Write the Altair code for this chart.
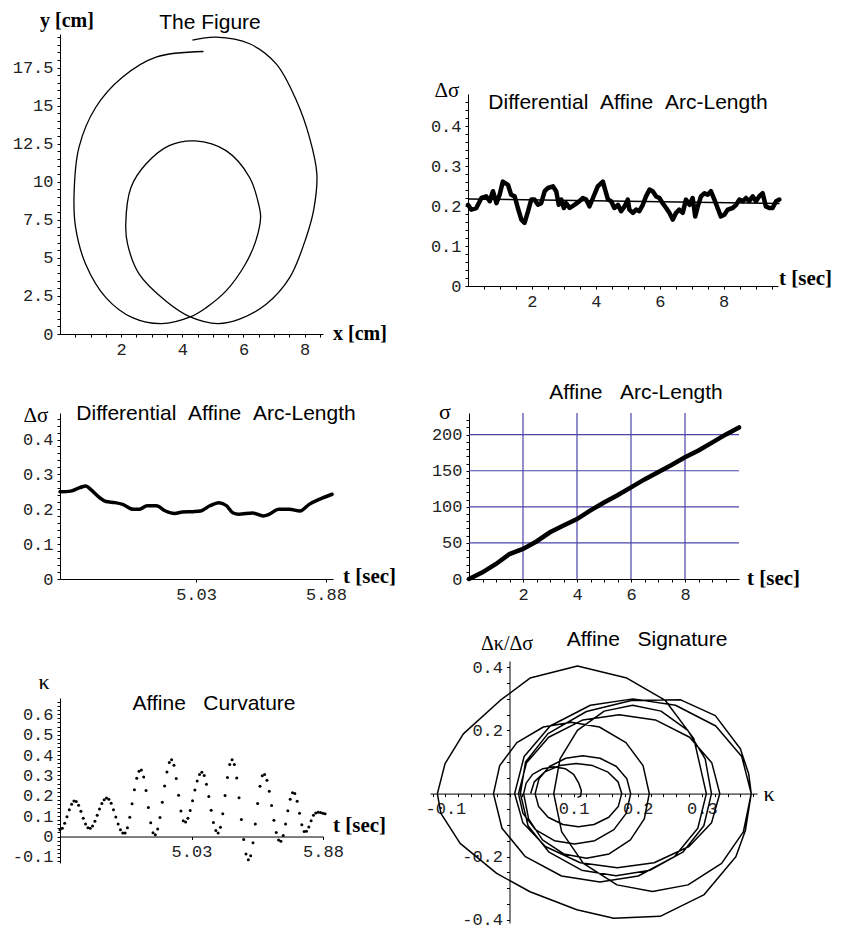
import json
import altair as alt
import pandas as pd

MONO = "Liberation Mono"
SANS = "Liberation Sans"
SERIF = "Liberation Serif"
GRID = "#4a44a8"

# ---------------- data ----------------
# Panel 1: the drawn figure, traced along the pen path (cm)
fig_x = [4.33, 5.10, 6.20, 7.07, 7.73, 8.16, 8.40, 8.30, 8.05, 7.51, 6.74, 5.87, 5.16, 4.26,
         3.46, 2.59, 2.21, 2.15, 2.32, 2.81, 3.57, 4.42, 5.43, 6.20, 6.52, 6.56, 6.40, 6.05,
         5.43, 4.78, 4.26, 3.32, 2.37, 1.50, 0.84, 0.51, 0.46, 0.62, 1.17, 2.04, 3.14, 4.69]
fig_y = [19.30, 19.49, 19.06, 17.74, 15.33, 12.90, 10.50, 8.20, 6.34, 3.70, 1.95, 0.97, 0.68, 1.12,
         2.17, 3.93, 5.90, 7.20, 9.62, 11.16, 12.37, 12.68, 12.04, 10.28, 8.31, 7.65, 6.10, 4.55,
         2.83, 1.73, 1.12, 0.68, 1.07, 2.39, 4.58, 7.00, 9.19, 12.26, 14.89, 16.86, 18.18, 18.55]

# Panel 2: differential affine arc-length over the whole drawing
p2_t = [0.00, 0.10, 0.26, 0.42, 0.57, 0.68, 0.78, 0.89, 0.99, 1.09, 1.25, 1.35, 1.46, 1.56, 1.67,
        1.77, 1.88, 1.98, 2.08, 2.19, 2.29, 2.40, 2.50, 2.66, 2.76, 2.84, 2.92, 3.00, 3.07, 3.18,
        3.33, 3.49, 3.59, 3.70, 3.80, 3.91, 4.06, 4.22, 4.29, 4.38, 4.48, 4.58, 4.69, 4.79, 4.90,
        5.00, 5.05, 5.16, 5.26, 5.36, 5.47, 5.57, 5.68, 5.78, 5.89, 5.99, 6.09, 6.20, 6.30, 6.41,
        6.51, 6.61, 6.72, 6.82, 6.93, 7.03, 7.11, 7.19, 7.29, 7.40, 7.50, 7.60, 7.71, 7.81, 7.91,
        8.02, 8.13, 8.28, 8.39, 8.49, 8.60, 8.70, 8.80, 8.91, 9.01, 9.11, 9.22, 9.32, 9.43, 9.53,
        9.64, 9.74]
p2_v = [0.203, 0.191, 0.195, 0.220, 0.224, 0.212, 0.237, 0.207, 0.228, 0.261, 0.253, 0.228, 0.224,
        0.195, 0.166, 0.158, 0.187, 0.216, 0.216, 0.203, 0.207, 0.237, 0.245, 0.249, 0.237, 0.203,
        0.216, 0.195, 0.207, 0.195, 0.203, 0.212, 0.220, 0.216, 0.199, 0.220, 0.249, 0.261, 0.241,
        0.216, 0.212, 0.195, 0.203, 0.187, 0.199, 0.216, 0.191, 0.183, 0.191, 0.187, 0.203, 0.224,
        0.241, 0.237, 0.224, 0.220, 0.207, 0.195, 0.183, 0.166, 0.183, 0.191, 0.183, 0.216, 0.203,
        0.220, 0.174, 0.199, 0.224, 0.232, 0.228, 0.237, 0.216, 0.195, 0.174, 0.178, 0.191, 0.195,
        0.203, 0.216, 0.212, 0.220, 0.212, 0.224, 0.212, 0.224, 0.232, 0.199, 0.195, 0.195, 0.212,
        0.216]
p2_fit_t = [0.00, 9.75]
p2_fit_v = [0.2175, 0.206]

# Panel 3: differential affine arc-length, smoothed segment
p3_t = [4.14, 4.21, 4.27, 4.31, 4.34, 4.40, 4.44, 4.50, 4.55, 4.62, 4.66, 4.71, 4.77, 4.83, 4.89,
        4.94, 5.01, 5.06, 5.12, 5.18, 5.23, 5.27, 5.31, 5.40, 5.47, 5.51, 5.57, 5.64, 5.71, 5.77,
        5.84, 5.92]
p3_v = [0.250, 0.252, 0.262, 0.267, 0.257, 0.233, 0.222, 0.219, 0.214, 0.200, 0.200, 0.210, 0.210,
        0.195, 0.188, 0.192, 0.193, 0.195, 0.210, 0.219, 0.210, 0.190, 0.186, 0.189, 0.181, 0.186,
        0.200, 0.200, 0.195, 0.214, 0.229, 0.243]

# Panel 4: affine arc-length
p4_t = [0, 0.5, 1, 1.5, 2, 2.5, 3, 3.5, 4, 4.5, 5, 5.5, 6, 6.5, 7, 7.5, 8, 8.5, 9, 9.5, 10]
p4_s = [0, 9.2, 20.8, 34.6, 41.6, 52, 64.7, 74, 83, 95, 106, 116, 127, 138, 148, 158, 168.6, 178,
        189, 200, 210]
p4_grid_t = [2, 4, 6, 8]
p4_grid_s = [50, 100, 150, 200]

# Panel 5: affine curvature samples
p5_k = [0.033, 0.041, 0.065, 0.097, 0.131, 0.159, 0.174,
        0.172, 0.154, 0.124, 0.090, 0.061, 0.043,
        0.041, 0.052, 0.075, 0.104, 0.135, 0.162, 0.181, 0.189,
        0.183, 0.163, 0.132, 0.096, 0.061, 0.033, 0.017,
        0.017, 0.043, 0.094, 0.161, 0.229, 0.286, 0.320,
        0.326, 0.292, 0.226, 0.143, 0.067, 0.019,
        0.009, 0.037, 0.093, 0.168, 0.248, 0.317, 0.363,
        0.377, 0.350, 0.285, 0.202, 0.125, 0.077,
        0.071, 0.090, 0.128, 0.176, 0.228, 0.273, 0.304, 0.315,
        0.300, 0.257, 0.196, 0.129, 0.069, 0.029,
        0.017, 0.045, 0.112, 0.201, 0.290, 0.353, 0.377,
        0.353, 0.287, 0.190, 0.083, -0.015, -0.086, -0.114,
        -0.094, -0.031, 0.061, 0.162, 0.247, 0.298,
        0.304, 0.276, 0.222, 0.152, 0.080, 0.020, -0.017,
        -0.023, 0.005, 0.061, 0.126, 0.183, 0.215,
        0.211, 0.173, 0.114, 0.058, 0.025,
        0.026, 0.047, 0.078, 0.105, 0.115, 0.119, 0.118, 0.114, 0.112]
p5_t0, p5_dt = 4.18, 0.01503

# Panel 6: affine signature (kappa, dkappa/dsigma)
sig_k = [0.033, 0.0387, 0.0543, 0.0784, 0.104, 0.1296, 0.1537, 0.1693, 0.175,
         0.1696, 0.1548, 0.1318, 0.1075, 0.0832, 0.0602, 0.0454, 0.040,
         0.046, 0.0624, 0.0877, 0.1145, 0.1413, 0.1667, 0.183, 0.189,
         0.182, 0.1628, 0.133, 0.1015, 0.07, 0.0403, 0.021, 0.014,
         0.0266, 0.0611, 0.1145, 0.171, 0.2275, 0.2809, 0.3154, 0.328,
         0.3152, 0.28, 0.2256, 0.168, 0.1104, 0.056, 0.0208, 0.008,
         0.0228, 0.0634, 0.1261, 0.1925, 0.2589, 0.3217, 0.3622, 0.377,
         0.3647, 0.3308, 0.2784, 0.223, 0.1676, 0.1152, 0.0814, 0.069,
         0.0788, 0.1059, 0.1477, 0.192, 0.2363, 0.2781, 0.3052, 0.315,
         0.3031, 0.2703, 0.2196, 0.166, 0.1124, 0.0617, 0.0289, 0.017,
         0.025, 0.06, 0.12, 0.19, 0.267, 0.321, 0.36, 0.373, 0.377,
         0.368, 0.353, 0.303, 0.235, 0.1625, 0.105, 0.032, -0.020, -0.077, -0.107, -0.1125,
         -0.1005, -0.072, -0.0146, 0.032, 0.106, 0.183, 0.243, 0.2875, 0.307,
         0.2937, 0.2572, 0.2008, 0.141, 0.0812, 0.0248, -0.0117, -0.025,
         -0.0153, 0.0115, 0.0528, 0.0965, 0.1402, 0.1816, 0.2083, 0.218,
         0.2102, 0.1886, 0.1553, 0.12, 0.0847, 0.0514, 0.0298, 0.022,
         0.026, 0.036, 0.052, 0.07, 0.087, 0.10, 0.108, 0.112, 0.111, 0.106]
sig_d = [0.0, 0.0372, 0.0678, 0.0886, 0.095, 0.0886, 0.0678, 0.0372, 0.0,
         -0.0412, -0.075, -0.098, -0.105, -0.098, -0.075, -0.0412, 0.0,
         0.047, 0.0857, 0.112, 0.12, 0.112, 0.0857, 0.047, 0.0,
         -0.0627, -0.1142, -0.1493, -0.16, -0.1493, -0.1142, -0.0627, 0.0,
         0.098, 0.1785, 0.2333, 0.25, 0.2333, 0.1785, 0.098, 0.0,
         -0.0921, -0.1678, -0.2193, -0.235, -0.2193, -0.1678, -0.0921, 0.0,
         0.1176, 0.2142, 0.2799, 0.30, 0.2799, 0.2142, 0.1176, 0.0,
         -0.1215, -0.2213, -0.2892, -0.31, -0.2892, -0.2213, -0.1215, 0.0,
         0.1098, 0.1999, 0.2612, 0.28, 0.2612, 0.1999, 0.1098, 0.0,
         -0.1019, -0.1856, -0.2426, -0.26, -0.2426, -0.1856, -0.1019, 0.0,
         0.10, 0.19, 0.26, 0.295, 0.297, 0.247, 0.142, 0.063, 0.0,
         -0.116, -0.20, -0.321, -0.389, -0.395, -0.368, -0.311, -0.253, -0.158, -0.063, 0.0,
         0.095, 0.189, 0.295, 0.366, 0.404, 0.366, 0.295, 0.174, 0.0,
         -0.1098, -0.1999, -0.2612, -0.28, -0.2612, -0.1999, -0.1098, 0.0,
         0.0886, 0.1614, 0.2109, 0.226, 0.2109, 0.1614, 0.0886, 0.0,
         -0.0804, -0.1464, -0.1913, -0.205, -0.1913, -0.1464, -0.0804, 0.0,
         0.033, 0.061, 0.079, 0.085, 0.079, 0.061, 0.033, 0.010, -0.008, -0.012]


# ---------------- helpers ----------------
def grid_vals(lo, hi, step):
    n = int(round((hi - lo) / step))
    return [round(lo + i * step, 4) for i in range(n + 1)]


def axis(values, majors, offset=0):
    expr = ("indexof(%s, datum.value) >= 0 ? replace(format(datum.value, '~g'), '\u2212', '-') : ''"
            % json.dumps(majors))
    return alt.Axis(values=values, labelExpr=expr, title=None, grid=False, tickSize=3,
                    tickWidth=1, tickColor="black", domainColor="black", domainWidth=1,
                    labelFont=MONO, labelFontSize=17, labelColor="#222", labelPadding=4,
                    labelFlush=False, labelOverlap=False, offset=offset)


def text(label, x, y, font=SANS, size=21, weight="normal", align="center"):
    return alt.Chart(pd.DataFrame({"s": [label]})).mark_text(
        font=font, fontSize=size, fontWeight=weight, align=align, baseline="alphabetic",
        color="black").encode(text="s:N", x=alt.value(x), y=alt.value(y))


def sc(lo, hi, rng):
    return alt.Scale(domain=[lo, hi], nice=False, zero=False, range=rng)


NB = "\u00a0"
TSEC = 21

# grid cells (flush, no spacing): column widths and row heights
CW1, CW2 = 370, 350
RH1, RH2, RH3 = 379, 248, 262

# ---------------- panel 1 ----------------
# plot box inside cell: left, top, width, height
L, T, W, H = 0, 0, 263, 300
x1 = alt.X("x:Q", scale=sc(0, 8.6, [L, L + W]),
           axis=axis(grid_vals(0.5, 8.5, 0.5), [2, 4, 6, 8], offset=-(RH1 - (T + H))))
y1 = alt.Y("y:Q", scale=sc(0, 19.7, [T + H, T]),
           axis=axis(grid_vals(0, 19.5, 0.5), [0, 2.5, 5, 7.5, 10, 12.5, 15, 17.5], offset=-L))
p1_df = pd.DataFrame({"x": fig_x, "y": fig_y, "i": list(range(len(fig_x)))})
p1 = alt.layer(
    alt.Chart(p1_df).mark_line(color="black", strokeWidth=1.3, interpolate="catmull-rom")
    .encode(x=x1, y=y1, order="i:Q"),
    text("The Figure", L + 150, T - 5),
    text("y [cm]", L + 7, T - 7, SERIF, 20, "bold"),
    text("x [cm]", L + 273, T + 306, SERIF, 20, "bold", "left"),
).properties(width=CW1, height=RH1)

# ---------------- panel 2 ----------------
L, T, W, H = 38, 60, 310, 192
x2 = alt.X("x:Q", scale=sc(0, 9.7, [L, L + W]),
           axis=axis(grid_vals(0.5, 9.5, 0.5), [2, 4, 6, 8], offset=-(RH1 - (T + H))))
y2 = alt.Y("y:Q", scale=sc(0, 0.48, [T + H, T]),
           axis=axis(grid_vals(0, 0.46, 0.02), [0, 0.1, 0.2, 0.3, 0.4], offset=-L))
p2 = alt.layer(
    alt.Chart(pd.DataFrame({"x": p2_t, "y": p2_v})).mark_line(
        color="black", strokeWidth=4.5, strokeJoin="round", strokeCap="round").encode(x=x2, y=y2),
    alt.Chart(pd.DataFrame({"x": p2_fit_t, "y": p2_fit_v})).mark_line(
        color="black", strokeWidth=1.5).encode(x=x2, y=y2),
    text("\u0394\u03c3", L - 21, T + 3, SERIF, 21),
    text("Differential" + NB * 2 + "Affine" + NB * 2 + "Arc-Length", L + 160, T + 15),
    text("t [sec]", L + 311, T + 191, SERIF, TSEC, "bold", "left"),
).properties(width=CW2, height=RH1)

# ---------------- panel 3 ----------------
L, T, W, H = 0, 0, 273, 166
x3 = alt.X("x:Q", scale=sc(4.14, 5.926, [L, L + W]),
           axis=axis([5.03, 5.88], [5.03, 5.88], offset=-(RH2 - (T + H))))
y3 = alt.Y("y:Q", scale=sc(0, 0.476, [T + H, T]),
           axis=axis(grid_vals(0, 0.46, 0.02), [0, 0.1, 0.2, 0.3, 0.4], offset=-L))
p3 = alt.layer(
    alt.Chart(pd.DataFrame({"x": p3_t, "y": p3_v})).mark_line(
        color="black", strokeWidth=3.5, interpolate="monotone", strokeCap="round").encode(x=x3, y=y3),
    text("\u0394\u03c3", L - 24, T + 9, SERIF, 21),
    text("Differential" + NB * 2 + "Affine" + NB * 2 + "Arc-Length", L + 156, T + 7),
    text("t [sec]", L + 283, T + 170, SERIF, TSEC, "bold", "left"),
).properties(width=CW1, height=RH2)

# ---------------- panel 4 ----------------
L, T, W, H = 39, 0, 270, 166
x4 = alt.X("x:Q", scale=sc(0, 10, [L, L + W]),
           axis=axis(grid_vals(0.5, 9.5, 0.5), [2, 4, 6, 8], offset=-(RH2 - (T + H))))
y4 = alt.Y("y:Q", scale=sc(0, 230, [T + H, T]),
           axis=axis(grid_vals(0, 220, 10), [0, 50, 100, 150, 200], offset=-L))
p4 = alt.layer(
    alt.Chart(pd.DataFrame({"x": p4_grid_t})).mark_rule(color=GRID, strokeWidth=1.2)
    .encode(x=x4, y=alt.value(T), y2=alt.value(T + H)),
    alt.Chart(pd.DataFrame({"y": p4_grid_s})).mark_rule(color=GRID, strokeWidth=1.2)
    .encode(y=y4, x=alt.value(L), x2=alt.value(L + W)),
    alt.Chart(pd.DataFrame({"x": p4_t, "y": p4_s})).mark_line(
        color="black", strokeWidth=4.5, strokeCap="round").encode(x=x4, y=y4),
    text("Affine" + NB * 3 + "Arc-Length", L + 167, T - 14),
    text("\u03c3", L - 24, T + 6, SERIF, 22),
    text("t [sec]", L + 278, T + 172, SERIF, TSEC, "bold", "left"),
).properties(width=CW2, height=RH2)

# ---------------- panel 5 ----------------
L, T, W, H = 0, 37, 263, 165
y5lo, y5hi = -0.13, 0.68
zero5 = T + H * y5hi / (y5hi - y5lo)
p5_t = [round(p5_t0 + i * p5_dt, 4) for i in range(len(p5_k))]
x5 = alt.X("x:Q", scale=sc(4.18, 5.88, [L, L + W]),
           axis=axis([5.03, 5.88], [5.03, 5.88], offset=-(RH3 - zero5)))
y5 = alt.Y("y:Q", scale=sc(y5lo, y5hi, [T + H, T]),
           axis=axis(grid_vals(-0.12, 0.66, 0.02), [-0.1, 0, 0.1, 0.2, 0.3, 0.4, 0.5, 0.6],
                     offset=-L))
p5 = alt.layer(
    alt.Chart(pd.DataFrame({"x": p5_t, "y": p5_k})).mark_circle(
        color="black", size=9, opacity=1).encode(x=x5, y=y5),
    text("\u03ba", L - 16, T - 9, SERIF, 22),
    text("Affine" + NB * 3 + "Curvature", L + 154, T + 12),
    text("t [sec]", L + 273, T + 134, SERIF, TSEC, "bold", "left"),
).properties(width=CW1, height=RH3)

# ---------------- panel 6 ----------------
L, T, W, H = 0, 0, 327, 262
x6lo, x6hi, y6lo, y6hi = -0.124, 0.386, -0.41, 0.42
zero6y = T + H * y6hi / (y6hi - y6lo)
zero6x = L + W * (0 - x6lo) / (x6hi - x6lo)
x6 = alt.X("x:Q", scale=sc(x6lo, x6hi, [L, L + W]),
           axis=axis(grid_vals(-0.12, 0.38, 0.02), [-0.1, 0.1, 0.2, 0.3], offset=-(RH3 - zero6y)))
y6 = alt.Y("y:Q", scale=sc(y6lo, y6hi, [T + H, T]),
           axis=axis(grid_vals(-0.4, 0.4, 0.05), [-0.4, -0.2, 0.2, 0.4], offset=-zero6x))
p6_df = pd.DataFrame({"x": sig_k, "y": sig_d, "i": list(range(len(sig_k)))})
p6 = alt.layer(
    alt.Chart(p6_df).mark_line(color="black", strokeWidth=1.5, strokeJoin="round")
    .encode(x=x6, y=y6, order="i:Q"),
    text("\u0394\u03ba/\u0394\u03c3", L + 77, T - 11, SERIF, 20),
    text("Affine" + NB * 3 + "Signature", L + 217, T - 15),
    text("\u03ba", L + 339, zero6y + 7, SERIF, 22),
).properties(width=CW2, height=RH3)

# ---------------- layout ----------------
chart = alt.concat(p1, p2, p3, p4, p5, p6, columns=2, spacing=0, bounds="flush").properties(
    padding={"left": 4, "top": 3, "right": 5, "bottom": 12}
).configure_view(stroke=None)

chart.save("out.html", embed_options={"renderer": "svg", "actions": False})
